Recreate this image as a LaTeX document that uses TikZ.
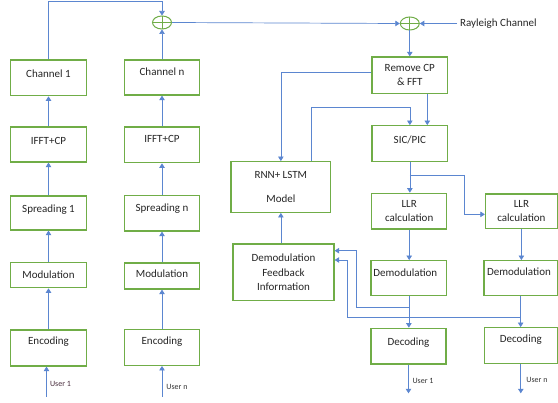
\documentclass[tikz,border=0pt]{standalone}
\usepackage{fontspec}
\setmainfont{Carlito}
\usetikzlibrary{arrows.meta,shapes.geometric}
\definecolor{bgreen}{HTML}{70AD47}
\definecolor{lblue}{HTML}{5B86D0}
\definecolor{utxt}{HTML}{4A2E3E}
\newcommand\mv[3]{\raisebox{#2}[\height][\depth]{\rlap{\hspace*{#1}#3}\phantom{#3}}}
\begin{document}
\begin{tikzpicture}[x=1pt,y=-1pt,
  box/.style={draw=bgreen, line width=1.3pt, inner sep=0pt, align=center,
    font=\fontsize{11}{14.3}\selectfont, text=black!85},
  con/.style={draw=lblue, line width=0.7pt},
  arr/.style={con, -{Triangle[length=4.5pt,width=5.5pt]}},
  sumnode/.style={ellipse, draw=bgreen, line width=1pt, minimum width=19pt,
    minimum height=13pt, inner sep=0pt,
    path picture={\draw[bgreen, line width=1pt]
      (path picture bounding box.north) -- (path picture bounding box.south)
      (path picture bounding box.west) -- (path picture bounding box.east);}},
  lab/.style={font=\fontsize{8}{10}\selectfont, text=black!80, inner sep=0pt}]
\fill[white] (0,0) rectangle (558,403);
\useasboundingbox (0,0) rectangle (558,403);

% transmitter column 1
\node[box, minimum width=76pt, minimum height=35.7pt] (ch1) at (48.5,77.85) {\mv{0pt}{4.5pt}{Channel 1}};
\node[box, minimum width=76pt, minimum height=35pt] (if1) at (48.5,144.5) {\mv{0pt}{3.5pt}{IFFT+CP}};
\node[box, minimum width=76pt, minimum height=34pt] (sp1) at (48.5,213) {\mv{0pt}{3pt}{Spreading 1}};
\node[box, minimum width=76pt, minimum height=25pt] (mo1) at (48.5,275.2) {Modulation};
\node[box, minimum width=76pt, minimum height=36pt] (en1) at (48.5,348) {\mv{0pt}{6pt}{Encoding}};

% transmitter column n
\node[box, minimum width=75.5pt, minimum height=35pt] (chn) at (162,77.5) {\mv{0pt}{6pt}{Channel n}};
\node[box, minimum width=75.5pt, minimum height=35.7pt] (ifn) at (162,144.85) {\mv{0pt}{5.8pt}{IFFT+CP}};
\node[box, minimum width=75.5pt, minimum height=35.3pt] (spn) at (162,213.35) {\mv{0pt}{5pt}{Spreading n}};
\node[box, minimum width=75.5pt, minimum height=26pt] (mon) at (162,276) {\mv{0pt}{2pt}{Modulation}};
\node[box, minimum width=75.5pt, minimum height=36pt] (enn) at (162,347.3) {\mv{0pt}{6pt}{Encoding}};

% adders
\node[sumnode] (c1) at (162,22.5) {};
\node[sumnode] (c2) at (409.8,23.5) {};
\node[font=\fontsize{11}{14}\selectfont, text=black!85, inner sep=3pt, anchor=west] (ray) at (457,23.5) {Rayleigh Channel};

% receiver
\node[box, minimum width=75.8pt, minimum height=36.3pt] (rcp) at (409.8,75.15) {Remove CP\\\& FFT};
\node[box, minimum width=75.7pt, minimum height=36pt] (sic) at (409.85,143.7) {\mv{0pt}{3.7pt}{SIC/PIC}};
\node[box, minimum width=99.7pt, minimum height=50.6pt] (rnn) at (280.85,187) {RNN+ LSTM\\[9.4pt]Model};
\node[box, minimum width=101pt, minimum height=56.7pt] (fb) at (283.5,272.35) {Demodulation\\Feedback\\Information};
\node[box, minimum width=75pt, minimum height=35.7pt] (llr1) at (409.2,211.15) {LLR\\calculation};
\node[box, minimum width=71.8pt, minimum height=34.7pt] (llr2) at (521.4,211.35) {LLR\\calculation};
\node[box, minimum width=75.7pt, minimum height=35pt] (dm1) at (408.85,278.2) {\mv{-3.5pt}{5pt}{Demodulation}};
\node[box, minimum width=73.3pt, minimum height=35pt] (dm2) at (520.65,278.2) {\mv{-1.7pt}{6pt}{Demodulation}};
\node[box, minimum width=75pt, minimum height=35.7pt] (dc1) at (408.5,346.15) {\mv{0pt}{3.5pt}{Decoding}};
\node[box, minimum width=73pt, minimum height=35.6pt] (dc2) at (520.8,345.5) {\mv{0pt}{5.5pt}{Decoding}};

% user labels
\node[lab, text=utxt] (u1) at (60.5,384) {User 1};
\node[lab] (u2) at (177,387) {User n};
\node[lab] (u3) at (423,381) {User 1};
\node[lab] (u4) at (537,380) {User n};

% coordinates
\coordinate (i1) at (46.5,397);
\coordinate (i2) at (162,397);
\coordinate (tr) at (162,1.2);
\coordinate (k1) at (311,107.3);
\coordinate (k2) at (464,175);
\coordinate (f1) at (356,307.7);
\coordinate (f2) at (347.5,317.5);
\coordinate (o1) at (408.5,393.3);
\coordinate (o2) at (520.8,393.3);

% transmitter connectors
\draw[arr] (i1) -- (i1 |- en1.south);
\draw[arr] (en1.north) -- (mo1.south);
\draw[arr] (mo1.north) -- (sp1.south);
\draw[arr] (sp1.north) -- (if1.south);
\draw[arr] (if1.north) -- (ch1.south);
\draw[arr] (i2) -- (i2 |- enn.south);
\draw[arr] (enn.north) -- (mon.south);
\draw[arr] (mon.north) -- (spn.south);
\draw[arr] (spn.north) -- (ifn.south);
\draw[arr] (ifn.north) -- (chn.south);
\draw[arr] (ch1.north) |- (tr) -- (c1.north);
\draw[arr] (chn.north) -- (c1.south);
\draw[arr] (c1.east) -- (c2.west);
\draw[arr] (ray.west) -- (c2.east);
\draw[arr] (c2.south) -- (rcp.north);

% receiver connectors
\draw[arr] ([xshift=17.5pt]rcp.south) -- ([xshift=17.5pt]rcp.south |- sic.north);
\draw[arr] ([yshift=2.5pt]rcp.west) -| (rnn.north);
\draw[arr] (rnn.north -| k1) -- (k1) -| (sic.north);
\draw[arr] (sic.south) -- (sic.south |- llr1.north);
\draw[con] (sic.south |- k2) -- (k2);
\draw[arr] (k2) |- ([yshift=-3pt]llr2.west);
\draw[arr] (llr1.south) -- (llr1.south |- dm1.north);
\draw[arr] (llr2.south) -- (llr2.south |- dm2.north);
\draw[arr] (dm1.south) -- (dm1.south |- dc1.north);
\draw[arr] (dm2.south) -- (dm2.south |- dc2.north);
\draw[arr] (dc1.south) -- (o1);
\draw[arr] (dc2.south) -- (o2);
\draw[arr] (dm1.south |- f1) -- (f1) |- ([yshift=21.65pt]fb.east);
\draw[arr] (dm2.south |- f2) -- (f2) |- ([yshift=12.35pt]fb.east);
\draw[arr] (rnn.south |- fb.north) -- (rnn.south);
\end{tikzpicture}
\end{document}
